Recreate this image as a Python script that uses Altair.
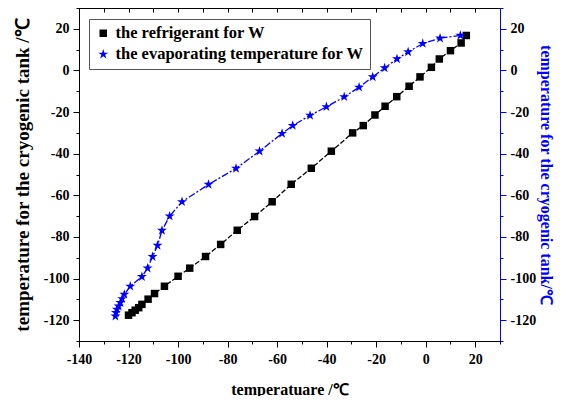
import altair as alt
import pandas as pd

series_names = ["the refrigerant for W", "the evaporating temperature for W"]

ref_x = [-120.0, -118.6, -117.3, -115.9, -114.6, -112.1, -109.5, -105.5, -100.0, -95.3,
         -88.9, -82.8, -76.1, -69.1, -62.0, -54.3, -46.2, -38.1, -29.5, -25.2,
         -20.5, -16.4, -11.7, -6.7, -2.3, 2.3, 5.5, 10.0, 14.3, 16.4]
ref_y = [-117.6, -116.4, -115.2, -114.0, -112.4, -109.9, -107.2, -103.7, -98.9, -95.0,
         -89.4, -83.6, -76.8, -70.2, -63.1, -54.7, -47.0, -38.8, -30.0, -26.5,
         -21.4, -17.2, -12.6, -7.6, -3.1, 1.5, 5.5, 9.5, 13.2, 16.8]

evap_x = [-125.3, -125.1, -124.7, -124.0, -123.3, -122.6, -121.7, -119.3, -114.6, -112.3,
          -110.3, -108.3, -106.5, -103.4, -98.4, -87.7, -76.6, -67.1, -58.0, -53.7,
          -46.7, -40.1, -32.9, -26.9, -21.4, -16.6, -11.6, -7.1, -1.2, 5.8, 14.0]
evap_y = [-118.1, -116.4, -114.8, -113.3, -111.6, -109.7, -107.6, -103.7, -99.1, -95.0,
          -89.5, -84.1, -76.9, -70.0, -63.1, -54.8, -47.1, -38.8, -30.3, -26.5,
          -21.6, -17.5, -12.7, -8.1, -3.1, 1.2, 5.5, 8.9, 12.9, 15.5, 16.8]

x_ticks = list(range(-140, 31, 10))
y_ticks = list(range(-130, 31, 10))

df = pd.concat([
    pd.DataFrame({"x": ref_x, "y": ref_y, "series": series_names[0],
                  "order": range(len(ref_x))}),
    pd.DataFrame({"x": evap_x, "y": evap_y, "series": series_names[1],
                  "order": range(len(evap_x))}),
], ignore_index=True)

FONT = "Liberation Serif"
STAR = ("M0,-1L0.2245,-0.309L0.951,-0.309L0.363,0.118L0.588,0.809L0,0.382"
        "L-0.588,0.809L-0.363,0.118L-0.951,-0.309L-0.2245,-0.309Z")

color_scale = alt.Scale(domain=series_names, range=["black", "blue"])
shape_scale = alt.Scale(domain=series_names, range=["square", STAR])
size_scale = alt.Scale(domain=series_names, range=[56, 110])
x_scale = alt.Scale(domain=[-140, 30], nice=False, zero=False)
y_scale = alt.Scale(domain=[-130, 30], nice=False, zero=False)

major_tick = {"condition": {"test": "datum.value % 20 === 0", "value": 6}, "value": 3}
label_expr = "datum.value % 20 === 0 ? '' + datum.value : ''"

common = dict(grid=False, labelFont=FONT, labelFontSize=14, labelFontWeight="bold",
              labelColor="black", titleFont=FONT, titleFontWeight="bold",
              labelOverlap=False, labelFlush=False)

x_bottom = alt.Axis(orient="bottom", values=x_ticks, labelExpr=label_expr,
                    tickSize=major_tick, domainColor="black", tickColor="black",
                    labelPadding=5, title="temperatuare /℃", titleFontSize=16,
                    titleColor="black", titlePadding=15, **common)
y_left = alt.Axis(orient="left", values=y_ticks, labelExpr=label_expr,
                  tickSize=major_tick, domainColor="black", tickColor="black",
                  labelPadding=4, title="temperature for the cryogenic tank /℃",
                  titleFontSize=19, titleColor="black", titlePadding=11, **common)
x_top = alt.Axis(orient="top", values=x_ticks, labels=False, domain=False,
                 tickSize=4, offset=-4, tickColor="black", title=None, grid=False)
y_right = alt.Axis(orient="right", values=y_ticks, labelExpr=label_expr,
                   tickSize=major_tick, domainColor="blue", tickColor="blue",
                   labelPadding=4, title="temperature for the cryogenic tank/℃",
                   titleFontSize=16, titleColor="blue", titlePadding=2, **common)

base = alt.Chart(df)

line_ref = base.transform_filter(alt.datum.series == series_names[0]).mark_line(
    color="black", strokeDash=[5, 2], strokeWidth=1.3
).encode(
    x=alt.X("x:Q", scale=x_scale, axis=x_top),
    y=alt.Y("y:Q", scale=y_scale, axis=y_right),
    order="order:Q",
)

line_evap = base.transform_filter(alt.datum.series == series_names[1]).mark_line(
    color="blue", strokeDash=[7, 2, 2, 2], strokeWidth=1.3
).encode(
    x=alt.X("x:Q", scale=x_scale, axis=None),
    y=alt.Y("y:Q", scale=y_scale, axis=None),
    order="order:Q",
)

legend = alt.Legend(orient="none", legendX=10, legendY=11, title=None,
                    labelFont=FONT, labelFontSize=16.5, labelFontWeight="bold",
                    labelColor="black", symbolSize=70, strokeColor="#555555",
                    fillColor="white", padding=6, rowPadding=4, labelLimit=400)

points = base.mark_point(filled=True, opacity=1).encode(
    x=alt.X("x:Q", scale=x_scale, axis=x_bottom),
    y=alt.Y("y:Q", scale=y_scale, axis=y_left),
    color=alt.Color("series:N", scale=color_scale, legend=legend),
    shape=alt.Shape("series:N", scale=shape_scale, legend=legend),
    size=alt.Size("series:N", scale=size_scale, legend=None),
)

chart = alt.layer(line_ref, line_evap, points).resolve_axis(
    x="independent", y="independent"
).properties(
    width=421, height=333,
    autosize=alt.AutoSizeParams(type="none"),
    padding={"left": 71, "top": 0, "right": 55, "bottom": 55},
).configure_view(
    stroke="black", strokeWidth=1
).configure_axis(
    labelFont=FONT, titleFont=FONT
)

chart.save("out.html", embed_options={"renderer": "svg", "actions": False})
